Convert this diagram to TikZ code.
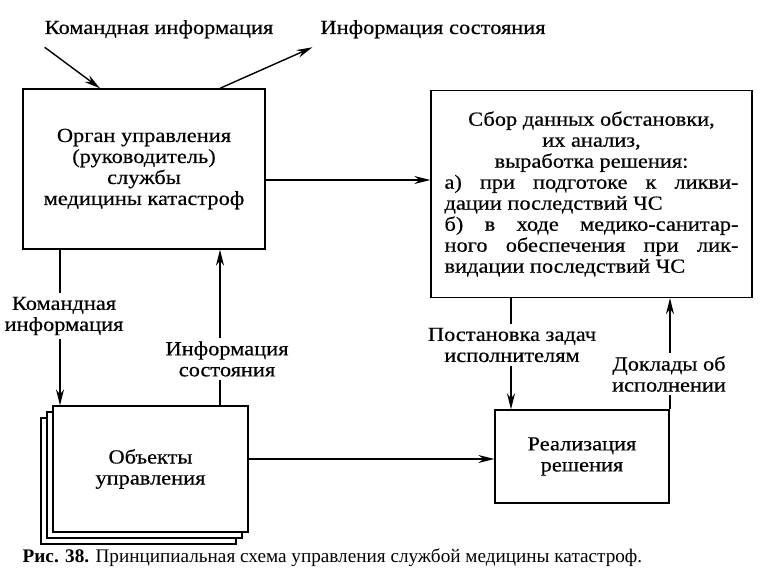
\documentclass[tikz,border=0pt]{standalone}
\usepackage{fontspec}
\setmainfont{Liberation Serif}[FakeStretch=1.12,FakeBold=0.4]
\newfontfamily\capfont{Liberation Serif}
\usetikzlibrary{calc,arrows.meta,positioning}
\tikzset {>={Stealth[length=16pt,width=8pt]}}

\begin{document}
\begin{tikzpicture}[x=1pt,y=-1pt,line width=1.4pt,
  font=\fontsize{20}{21}\selectfont,
  box/.style={draw,fill=white,align=center,inner sep=2pt},
  lbl/.style={align=center,inner sep=3pt}]
\useasboundingbox (0,0) rectangle (771,580);
\node[anchor=base] (cmdtop) at (159,34) {Командная информация};
\node[anchor=base] (statetop) at (433,34) {Информация состояния};
\node[box,minimum width=242pt,minimum height=160pt] (organ) at (144,169)
  {Орган управления\\(руководитель)\\службы\\медицины катастроф};
\node[box,minimum width=321pt,minimum height=207pt] (sbor) at (591.5,194)
  {Сбор данных обстановки,\\их анализ,\\выработка решения:\\
   \parbox[t]{294pt}{а) при подготоке к ликви-\linebreak дации последствий ЧС\\
   б) в ходе медико-санитар-\linebreak ного обеспечения при лик-\linebreak видации последствий ЧС}};
\node[box,minimum width=195pt,minimum height=126pt] (obj2) at (138.5,481) {};
\node[box,minimum width=195pt,minimum height=126pt] (obj1) at (144.5,475) {};
\node[box,minimum width=195pt,minimum height=126pt] (obj) at (150.5,469) {Объекты\\управления};
\node[box,minimum width=174pt,minimum height=93pt] (real) at (582,456.5) {Реализация\\решения};
\node[lbl] (cmdlow) at (64,316) {Командная\\информация};
\node[lbl] (statelow) at (227,359) {Информация\\состояния};
\node[lbl] (task) at (512,345) {Постановка задач\\исполнителям};
\node[lbl] (report) at (669,374) {Доклады об\\исполнении};
\coordinate (c1) at (60,0);
\coordinate (c2) at (220,0);
\coordinate (c3) at (511,0);
\coordinate (c4) at (670,0);
% top arrows
\draw[->] ([xshift=4pt,yshift=-5pt]cmdtop.south west) -- ([xshift=-44pt]organ.north);
\draw[->] ([xshift=76pt]organ.north) -- ([xshift=-4pt,yshift=-5pt]statetop.south west);
% horizontal arrows
\draw[->] ([yshift=-11pt]organ.east) coordinate (h1) -- (h1 -| sbor.west);
\draw[->] ([yshift=10pt]obj.east) coordinate (h2) -- (h2 -| real.west);
% vertical lines with labels
\draw (organ.south -| c1) -- (cmdlow.north -| c1);
\draw[->] (cmdlow.south -| c1) -- (obj.north -| c1);
\draw (obj.north -| c2) -- (statelow.south -| c2);
\draw[->] (statelow.north -| c2) -- (organ.south -| c2);
\draw (sbor.south -| c3) -- (task.north -| c3);
\draw[->] (task.south -| c3) -- (real.north -| c3);
\draw (real.north -| c4) -- (report.south -| c4);
\draw[->] (report.north -| c4) -- (sbor.south -| c4);
\node[anchor=base west,inner sep=0pt] (caption) at (22,562)
  {\capfont\fontsize{19.2}{21}\selectfont\textbf{Рис. 38.} Принципиальная схема управления службой медицины катастроф.};
\end{tikzpicture}
\end{document}
